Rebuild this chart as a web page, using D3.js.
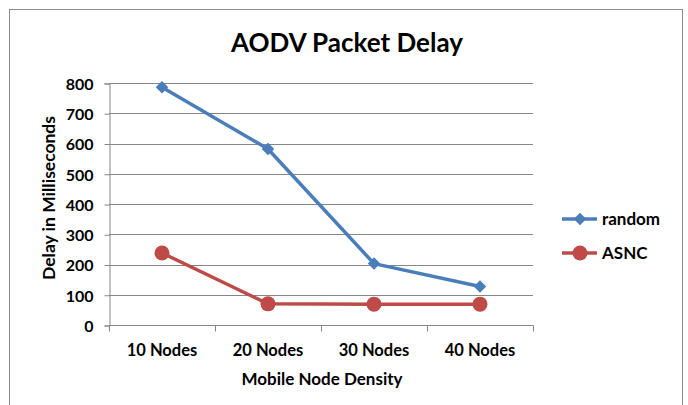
<!DOCTYPE html>
<html>
<head>
<meta charset="utf-8">
<script src="https://cdn.jsdelivr.net/npm/d3@7"></script>
<style>
  body { margin: 0; background: #fff; }
  text { font-family: Lato, "Open Sans", sans-serif; font-weight: bold; fill: #000; }
</style>
</head>
<body>
<div class="container"></div>
<script>
// chart data
var categories = ["10 Nodes", "20 Nodes", "30 Nodes", "40 Nodes"];
var randomDelay = [786, 582, 203, 127];
var asncDelay = [238, 70, 69, 69];
var yTicks = [0, 100, 200, 300, 400, 500, 600, 700, 800];

var series = [
  { name: "random", values: randomDelay, color: "#4A7EBB", marker: "diamond" },
  { name: "ASNC", values: asncDelay, color: "#BE4B48", marker: "circle" }
];

var W = 688, H = 405;
var plotL = 109, plotR = 533, plotT = 83, plotB = 325;

var svg = d3.select(".container").append("svg")
  .attr("width", W).attr("height", H);

// outer frame
svg.append("rect")
  .attr("x", 9.5).attr("y", 9.5).attr("width", 673).attr("height", 400)
  .attr("fill", "#fff").attr("stroke", "#8c8c8c").attr("stroke-width", 1);

var x = d3.scaleBand().domain(categories).range([plotL, plotR]);
var y = d3.scaleLinear().domain([0, 800]).range([plotB, plotT]);

// gridlines
svg.append("g").selectAll("line")
  .data(yTicks.slice(1))
  .enter().append("line")
  .attr("x1", plotL).attr("x2", plotR)
  .attr("y1", function(d) { return Math.round(y(d)) + 0.5 })
  .attr("y2", function(d) { return Math.round(y(d)) + 0.5 })
  .attr("stroke", "#868686");

// y axis
var yAxis = svg.append("g")
  .attr("transform", "translate(" + (plotL + 0.5) + ",0.5)")
  .call(d3.axisLeft(y).tickValues(yTicks).tickSize(5).tickPadding(11));
yAxis.select(".domain").attr("stroke", "#868686");
yAxis.selectAll(".tick line").attr("stroke", "#868686");
yAxis.selectAll("text").style("font-size", "16px").attr("dy", "0.36em");

// x axis, ticks at category boundaries
var xAxis = svg.append("g")
  .attr("transform", "translate(0," + (plotB + 0.5) + ")");
xAxis.append("line")
  .attr("x1", plotL).attr("x2", plotR)
  .attr("stroke", "#868686");
xAxis.selectAll(".bt")
  .data(d3.range(categories.length + 1))
  .enter().append("line")
  .attr("class", "bt")
  .attr("x1", function(i) { return Math.round(plotL + i * x.bandwidth()) + 0.5 })
  .attr("x2", function(i) { return Math.round(plotL + i * x.bandwidth()) + 0.5 })
  .attr("y1", 0).attr("y2", 6)
  .attr("stroke", "#868686");
xAxis.selectAll("text")
  .data(categories)
  .enter().append("text")
  .attr("x", function(d) { return x(d) + x.bandwidth() / 2 })
  .attr("y", 30)
  .attr("text-anchor", "middle")
  .style("font-size", "16.5px")
  .text(function(d) { return d });

// titles
svg.append("text")
  .attr("x", 347).attr("y", 52)
  .attr("text-anchor", "middle")
  .style("font-size", "26px")
  .text("AODV Packet Delay");

svg.append("text")
  .attr("x", 322).attr("y", 385)
  .attr("text-anchor", "middle")
  .style("font-size", "17px")
  .text("Mobile Node Density");

svg.append("text")
  .attr("transform", "translate(55,198) rotate(-90)")
  .attr("text-anchor", "middle")
  .style("font-size", "17.5px")
  .text("Delay in Milliseconds");

var line = d3.line()
  .x(function(d, i) { return x(categories[i]) + x.bandwidth() / 2 })
  .y(function(d) { return y(d) });

var diamond = d3.symbol().type(d3.symbolDiamond2).size(100);

function drawMarker(g, s, cx, cy) {
  if (s.marker == "diamond") {
    g.append("path")
      .attr("d", diamond())
      .attr("transform", "translate(" + cx + "," + cy + ")")
      .attr("fill", s.color);
  } else {
    g.append("circle")
      .attr("cx", cx).attr("cy", cy).attr("r", 7.5)
      .attr("fill", s.color);
  }
}

series.forEach(function(s) {
  var g = svg.append("g");
  g.append("path")
    .datum(s.values)
    .attr("d", line)
    .attr("fill", "none")
    .attr("stroke", s.color)
    .attr("stroke-width", 3.5)
    .attr("stroke-linejoin", "round");
  s.values.forEach(function(v, i) {
    drawMarker(g, s, x(categories[i]) + x.bandwidth() / 2, y(v));
  });
});

// legend
var legend = svg.append("g");
series.forEach(function(s, i) {
  var ly = 219 + i * 34;
  legend.append("line")
    .attr("x1", 562).attr("x2", 597)
    .attr("y1", ly).attr("y2", ly)
    .attr("stroke", s.color).attr("stroke-width", 3.5);
  drawMarker(legend, s, 580, ly);
  legend.append("text")
    .attr("x", 602).attr("y", ly)
    .attr("dy", "0.36em")
    .style("font-size", "17px")
    .text(s.name);
});
</script>
</body>
</html>
